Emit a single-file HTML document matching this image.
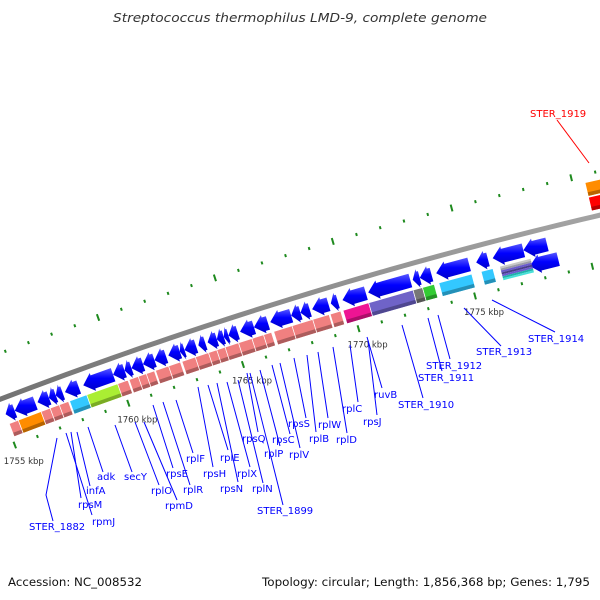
<!DOCTYPE html>
<html><head><meta charset="utf-8"><style>
html,body{margin:0;padding:0;background:#fff;}
svg{display:block;font-family:"DejaVu Sans","Liberation Sans",sans-serif;}
</style></head>
<body>
<svg id="chart" width="600" height="600" viewBox="0 0 600 600" xmlns="http://www.w3.org/2000/svg">
<defs>
<linearGradient id="gBlue" x1="0" y1="0" x2="0" y2="1"><stop offset="0" stop-color="#5a5aff"/><stop offset="0.45" stop-color="#0000ff"/><stop offset="1" stop-color="#0000c8"/></linearGradient>
<linearGradient id="gGray" x1="0" y1="0" x2="0" y2="1"><stop offset="0" stop-color="#aaa"/><stop offset="0.5" stop-color="#888"/><stop offset="1" stop-color="#666"/></linearGradient>
</defs>
<text x="300" y="22" text-anchor="middle" font-size="12.5" font-style="italic" fill="#333" textLength="374" lengthAdjust="spacingAndGlyphs">Streptococcus thermophilus LMD-9, complete genome</text>
<g id="track"></g>
<g id="labels"></g>
<text x="8" y="586" font-size="11.5" fill="#111" textLength="134" lengthAdjust="spacingAndGlyphs">Accession: NC_008532</text>
<text x="590" y="586" text-anchor="end" font-size="11.5" fill="#111" textLength="328" lengthAdjust="spacingAndGlyphs">Topology: circular; Length: 1,856,368 bp; Genes: 1,795</text>
</svg>
<script>
// ---- data (kbp) ----
const row1Start = [1755.1,1755.5,1756.5,1757.0,1757.3,1757.7,1758.5,1759.8,1760.3,1760.6,1761.1,1761.6,1762.2,1762.7,1762.9,1763.5,1763.9,1764.3,1764.6,1764.8,1765.3,1765.9,1766.6,1767.5,1767.9,1768.4,1769.2,1769.7,1770.8,1772.7,1773.0,1773.7,1775.4,1776.1,1777.4];
const row1End   = [1755.5,1756.4,1757.0,1757.3,1757.6,1758.3,1759.8,1760.3,1760.6,1761.1,1761.6,1762.1,1762.7,1762.9,1763.4,1763.8,1764.3,1764.6,1764.8,1765.2,1765.9,1766.5,1767.5,1767.9,1768.3,1769.1,1769.5,1770.7,1772.6,1773.0,1773.5,1775.1,1775.9,1777.4,1778.4];
const row2Start = [1755.1,1755.5,1756.5,1756.9,1757.3,1757.75,1758.5,1759.85,1760.35,1760.75,1761.1,1761.5,1762.07,1762.65,1763.23,1763.8,1764.16,1764.52,1765.1,1765.68,1766.18,1766.62,1767.41,1768.3,1769.05,1769.6,1770.7,1772.6,1773.0,1773.7,1775.5];
const row2End   = [1755.5,1756.5,1756.9,1757.3,1757.7,1758.5,1759.85,1760.3,1760.75,1761.1,1761.45,1762.07,1762.58,1763.23,1763.8,1764.16,1764.52,1765.1,1765.68,1766.18,1766.52,1767.41,1768.3,1769.0,1769.5,1770.7,1772.6,1773.0,1773.5,1775.1,1776.0];
const row2Color = ['#f08080','#ff8c00','#f08080','#f08080','#f08080','#33c8ff','#aaee33','#f08080','#f08080','#f08080','#f08080','#f08080','#f08080','#f08080','#f08080','#f08080','#f08080','#f08080','#f08080','#f08080','#f08080','#f08080','#f08080','#f08080','#f08080','#ee1493','#6f63c8','#777777','#33cc33','#33c8ff','#33c8ff'];
const stackStart = [1776.3];
const stackEnd = [1777.6];
const row2ArrowStart = [1777.5];
const row2ArrowEnd = [1778.7];
const revStart = [1780.5, 1780.5];
const revEnd = [1782.2, 1782.2];
const revColor = ['#ff8c00', '#ff0000'];
const revRow = [2, 1];
const tickMin = 1750, tickMax = 1785;
const tickLabelValues = [1755, 1760, 1765, 1770, 1775];

// ---- geometry (circle arc) ----
const CX = 1667.4, CY = 4761.5, RG = 4670, RT = 4622, RU = 4713;
function P(k, r){ const t=(-20.95+(k-1755)*0.3)*Math.PI/180; return [CX + r*Math.sin(t), CY - r*Math.cos(t)]; }
function pts(a){ return a.map(p=>p[0].toFixed(2)+','+p[1].toFixed(2)).join(' '); }
const NS='http://www.w3.org/2000/svg';
const track=document.getElementById('track');
function mk(tag, attrs, parent){ const e=document.createElementNS(NS,tag); for(const k in attrs) e.setAttribute(k,attrs[k]); (parent||track).appendChild(e); return e; }
function shade(c){ const n=parseInt(c.slice(1),16); const r=(n>>16)*0.72|0,g=((n>>8)&255)*0.72|0,b=(n&255)*0.72|0; return 'rgb('+r+','+g+','+b+')'; }

// backbone
{ const top=[],bot=[]; for(let k=tickMin;k<=tickMax;k+=0.5){ top.push(P(k,RG+2.5)); bot.unshift(P(k,RG-2.5)); }
  const e=mk('polygon',{points:pts(top.concat(bot)),fill:'url(#gGray)'});
  
   }

// ticks
for(let k=tickMin;k<=tickMax;k++){
  const long = k%5===0; const h = long?3.5:1.5;
  [RT,RU].forEach(function(rr){
    const a=P(k,rr+h), b=P(k,rr-h);
    const e=mk('line',{x1:a[0],y1:a[1],x2:b[0],y2:b[1],stroke:'#1e8a1e','stroke-width':2});
    
    
  });
}
tickLabelValues.forEach(function(k){
  const p=P(k,RT);
  const t=mk('text',{x:p[0]-11,y:p[1]+19,'font-size':8.5,fill:'#333'});
  t.textContent=k+' kbp';
  
  
});

function box(s,e,r0,r1,color,name){
  const poly=[P(s,r1),P(e,r1),P(e,r0),P(s,r0)];
  const g=mk('polygon',{points:pts(poly),fill:color,stroke:'#fff','stroke-width':0.7});
  
  
  const sh=mk('polygon',{points:pts([P(s+0.02,r0+4),P(e-0.02,r0+4),P(e-0.02,r0+0.4),P(s+0.02,r0+0.4)]),fill:shade(color)});
  
  
}
function arrow(s,e,r0,r1,name){
  const len=e-s, hk=Math.min(0.42,len*0.75), rc=(r0+r1)/2;
  const poly=[P(s,rc),P(s+hk,r1+2.5),P(s+hk,r1),P(e,r1),P(e,r0),P(s+hk,r0),P(s+hk,r0-2.5)];
  const g=mk('polygon',{points:pts(poly),fill:'url(#gBlue)'});
  
  
}
for(let i=0;i<row1Start.length;i++) arrow(row1Start[i],row1End[i],RG-23,RG-9,'gene-arrow');
for(let i=0;i<row2Start.length;i++) box(row2Start[i],row2End[i],RG-40,RG-26,row2Color[i],'gene-box');
for(let i=0;i<row2ArrowStart.length;i++) arrow(row2ArrowStart[i],row2ArrowEnd[i],RG-40,RG-26,'gene-arrow-row2');
const stripeCols=['#c8c8c8','#9a9aa8','#6a5acd','#483d8b','#6a5acd','#20b2aa','#48e0d8'];
for(let i=0;i<stackStart.length;i++){
  for(let j=0;j<stripeCols.length;j++){
    const r1=RG-26-j*2, r0=r1-2;
    const e=mk('polygon',{points:pts([P(stackStart[i],r1),P(stackEnd[i],r1),P(stackEnd[i],r0),P(stackStart[i],r0)]),fill:stripeCols[j]});
    
    
  }
}
for(let i=0;i<revStart.length;i++){
  const r0 = revRow[i]===1 ? RG+6 : RG+21;
  box(revStart[i],revEnd[i],r0,r0+14,revColor[i],'reverse-gene-box');
}

// labels (annotation layout)
const labelNames=['STER_1882','rpmJ','rpsM','infA','adk','secY','rplO','rpmD','rpsE','rplR','rplF','rpsH','rplE','rpsN','rplX','rplN','rpsQ','STER_1899','rplP','rpsC','rpsS','rplV','rplB','rplW','rplD','rplC','rpsJ','ruvB','STER_1910','STER_1911','STER_1912','STER_1913','STER_1914','STER_1919'];
const labelLines=[[[57,438],[46,495],[53,521]],[[66,433],[92,515]],[[71,432],[81,498]],[[77,432],[90,486]],[[88,427],[103,472]],[[115,425],[132,472]],[[135,422],[159,485]],[[144,422],[177,500]],[[153,405],[173,468]],[[163,402],[190,485]],[[176,400],[193,453]],[[198,387],[213,467]],[[208,385],[228,450]],[[217,383],[238,482]],[[227,382],[250,467]],[[238,380],[263,483]],[[247,373],[258,432]],[[250,373],[283,505]],[[260,370],[280,446]],[[272,365],[290,434]],[[294,358],[306,418]],[[280,363],[300,448]],[[307,355],[316,432]],[[318,352],[328,418]],[[333,347],[347,433]],[[350,345],[358,402]],[[368,340],[377,415]],[[367,337],[382,388]],[[402,325],[423,398]],[[428,318],[442,371]],[[438,315],[450,359]],[[464,308],[501,346]],[[492,300],[555,332]],[[557,120],[589,163]]];
const labelPos=[[29,530],[92,525],[78,508],[86,494],[97,480],[124,480],[151,494],[165,509],[166,477],[183,493],[186,462],[203,477],[220,461],[220,492],[237,477],[252,492],[242,442],[257,514],[264,457],[272,443],[288,427],[289,458],[309,442],[318,428],[336,443],[342,412],[363,425],[374,398],[398,408],[418,381],[426,369],[476,355],[528,342],[530,117]];
const lg=document.getElementById('labels');
labelNames.forEach(function(n,i){
  const col = n==='STER_1919' ? '#ff0000' : '#0000ff';
  const pl=mk('polyline',{points:pts(labelLines[i]),fill:'none',stroke:col,'stroke-width':1},lg);
  
  
  const t=mk('text',{x:labelPos[i][0],y:labelPos[i][1],'font-size':10,fill:col},lg);
  t.textContent=n;
  
  
});
</script>
</body></html>
